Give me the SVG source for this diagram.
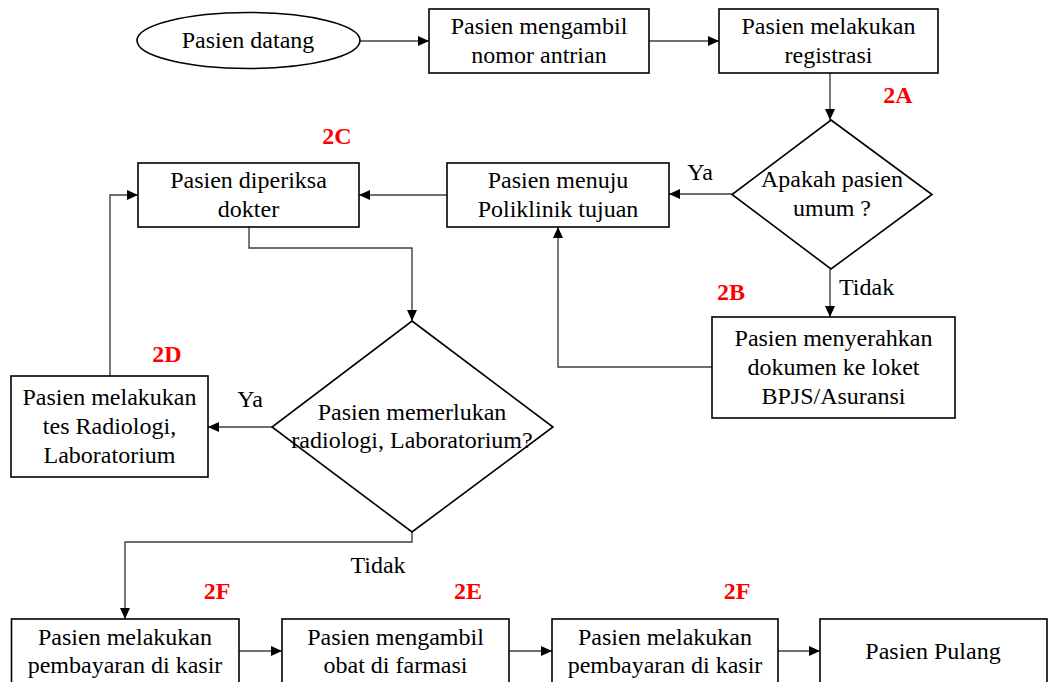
<svg xmlns="http://www.w3.org/2000/svg" width="1048" height="682" viewBox="0 0 1048 682">
  <style>
    .shape { fill: #ffffff; stroke: #000000; stroke-width: 1.6; }
    .conn { fill: none; stroke: #404040; stroke-width: 1.4; }
    .t { font-family: "Liberation Serif", "Times New Roman", serif; font-size: 24px; fill: #000000; text-anchor: middle; }
    .lbl { font-family: "Liberation Serif", "Times New Roman", serif; font-size: 24px; fill: #000000; }
    .red { font-family: "Liberation Serif", "Times New Roman", serif; font-size: 24px; font-weight: bold; fill: #ff0000; text-anchor: middle; }
  </style>
  <defs>
    <marker id="arrow" markerUnits="userSpaceOnUse" markerWidth="11" markerHeight="10" refX="11" refY="5" orient="auto">
      <path d="M0,0 L11,5 L0,10 z" fill="#000000"/>
    </marker>
  </defs>
  <rect width="1048" height="682" fill="#ffffff"/>

  <g id="connectors">
    <path class="conn" d="M360,41 L429,41" marker-end="url(#arrow)"/>
    <path class="conn" d="M649,41 L719,41" marker-end="url(#arrow)"/>
    <path class="conn" d="M830,73 L830,120" marker-end="url(#arrow)"/>
    <path class="conn" d="M732,194 L669,194" marker-end="url(#arrow)"/>
    <path class="conn" d="M830,269 L830,317" marker-end="url(#arrow)"/>
    <path class="conn" d="M712,367 L558,367 L558,227" marker-end="url(#arrow)"/>
    <path class="conn" d="M447,195 L359,195" marker-end="url(#arrow)"/>
    <path class="conn" d="M249,227 L249,248 L412,248 L412,321" marker-end="url(#arrow)"/>
    <path class="conn" d="M272,427 L208,427" marker-end="url(#arrow)"/>
    <path class="conn" d="M110,376 L110,195 L138,195" marker-end="url(#arrow)"/>
    <path class="conn" d="M412,532 L412,542 L125,542 L125,619" marker-end="url(#arrow)"/>
    <path class="conn" d="M239,651 L282,651" marker-end="url(#arrow)"/>
    <path class="conn" d="M509,651 L552,651" marker-end="url(#arrow)"/>
    <path class="conn" d="M778,651 L820,651" marker-end="url(#arrow)"/>
    <text class="lbl" x="700" y="180" text-anchor="middle">Ya</text>
    <text class="lbl" x="839" y="295">Tidak</text>
    <text class="lbl" x="250" y="407" text-anchor="middle">Ya</text>
    <text class="lbl" x="378" y="573" text-anchor="middle">Tidak</text>
  </g>

  <g id="labels">
    <text class="red" x="898" y="103">2A</text>
    <text class="red" x="731" y="300">2B</text>
    <text class="red" x="337" y="144">2C</text>
    <text class="red" x="167" y="362">2D</text>
    <text class="red" x="468" y="599">2E</text>
    <text class="red" x="217" y="599">2F</text>
    <text class="red" x="737" y="599">2F</text>
  </g>

  <g id="start">
    <ellipse class="shape" cx="248.5" cy="40.5" rx="111.5" ry="28"/>
    <text class="t" x="248" y="48">Pasien datang</text>
  </g>

  <g id="antrian">
    <rect class="shape" x="429" y="9" width="220" height="64"/>
    <text class="t" x="539" y="34">Pasien mengambil</text>
    <text class="t" x="539" y="63">nomor antrian</text>
  </g>

  <g id="registrasi">
    <rect class="shape" x="719" y="9" width="219" height="64"/>
    <text class="t" x="828.5" y="34">Pasien melakukan</text>
    <text class="t" x="828.5" y="63">registrasi</text>
  </g>

  <g id="decision-umum">
    <polygon class="shape" points="831,120 932,194.5 831,269 732,194.5"/>
    <text class="t" x="832" y="187">Apakah pasien</text>
    <text class="t" x="832" y="216">umum ?</text>
  </g>

  <g id="bpjs">
    <rect class="shape" x="712" y="317" width="243" height="101"/>
    <text class="t" x="833.5" y="346">Pasien menyerahkan</text>
    <text class="t" x="833.5" y="375">dokumen ke loket</text>
    <text class="t" x="833.5" y="404">BPJS/Asuransi</text>
  </g>

  <g id="poliklinik">
    <rect class="shape" x="447" y="163" width="222" height="64"/>
    <text class="t" x="558" y="188">Pasien menuju</text>
    <text class="t" x="558" y="217">Poliklinik tujuan</text>
  </g>

  <g id="dokter">
    <rect class="shape" x="138" y="163" width="221" height="64"/>
    <text class="t" x="248.5" y="188">Pasien diperiksa</text>
    <text class="t" x="248.5" y="217">dokter</text>
  </g>

  <g id="decision-lab">
    <polygon class="shape" points="412,321 553,427 412,532 272,427"/>
    <text class="t" x="412" y="420">Pasien memerlukan</text>
    <text class="t" x="412" y="448">radiologi, Laboratorium?</text>
  </g>

  <g id="radiologi">
    <rect class="shape" x="11" y="376" width="197" height="101"/>
    <text class="t" x="109.5" y="405">Pasien melakukan</text>
    <text class="t" x="109.5" y="434">tes Radiologi,</text>
    <text class="t" x="109.5" y="463">Laboratorium</text>
  </g>

  <g id="kasir1">
    <rect class="shape" x="11.5" y="619" width="227.5" height="72"/>
    <text class="t" x="125" y="645">Pasien melakukan</text>
    <text class="t" x="125" y="673">pembayaran di kasir</text>
  </g>

  <g id="farmasi">
    <rect class="shape" x="282" y="619" width="227" height="72"/>
    <text class="t" x="395.5" y="645">Pasien mengambil</text>
    <text class="t" x="395.5" y="673">obat di farmasi</text>
  </g>

  <g id="kasir2">
    <rect class="shape" x="552" y="619" width="226" height="72"/>
    <text class="t" x="665" y="645">Pasien melakukan</text>
    <text class="t" x="665" y="673">pembayaran di kasir</text>
  </g>

  <g id="pulang">
    <rect class="shape" x="820" y="619" width="227" height="72"/>
    <text class="t" x="933" y="659">Pasien Pulang</text>
  </g>
</svg>
